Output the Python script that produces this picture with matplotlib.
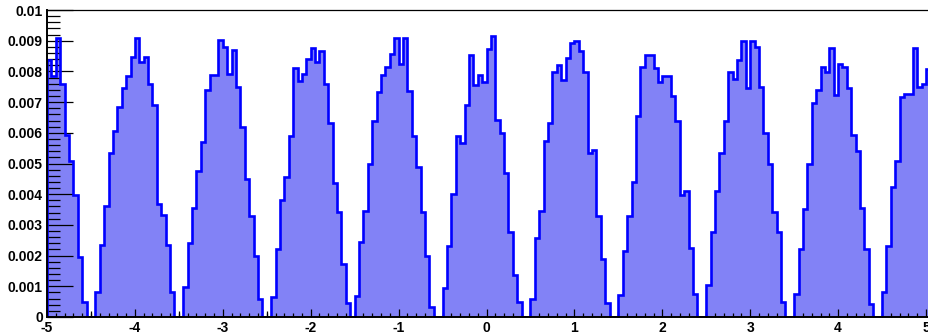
import numpy as np
import matplotlib
matplotlib.use("Agg")
import matplotlib.pyplot as plt
from matplotlib.ticker import MultipleLocator, FuncFormatter

plt.rcParams["font.family"] = ["Liberation Sans", "DejaVu Sans"]
plt.rcParams["font.weight"] = "bold"

# histogram binning
X_MIN = -5.0
BIN_W = 0.05

# bin contents, in units of 1e-3
peak_m5 = [8.37, 7.86, 9.10, 7.58, 5.93, 5.08, 3.96, 1.96, 0.49]
peak_m4 = [0.80, 2.36, 3.60, 5.33, 6.07, 6.84, 7.47, 7.86, 8.48, 9.10, 8.30, 8.48, 7.58, 6.90, 3.68, 3.32, 2.36, 0.80]
peak_m3 = [0.99, 2.42, 3.55, 4.76, 5.69, 7.38, 7.89, 7.89, 9.03, 8.80, 7.90, 8.70, 7.50, 6.18, 4.50, 3.28, 1.98, 0.60]
peak_m2 = [0.66, 2.22, 3.80, 4.57, 5.90, 8.10, 7.69, 7.91, 8.40, 8.77, 8.30, 8.68, 7.58, 6.33, 4.37, 3.43, 1.74, 0.44]
peak_m1 = [0.69, 2.44, 3.46, 4.98, 6.37, 7.33, 7.89, 8.13, 8.57, 9.10, 8.24, 9.10, 7.36, 5.91, 4.89, 3.41, 1.98, 0.33]
peak_0 = [0.93, 2.31, 4.02, 5.88, 5.66, 6.92, 8.55, 7.56, 7.89, 7.67, 8.74, 9.14, 6.43, 5.99, 4.70, 2.77, 1.37, 0.49]
peak_1 = [0.58, 2.58, 3.46, 5.73, 6.32, 7.97, 8.22, 7.71, 8.44, 8.92, 9.00, 8.66, 7.97, 5.35, 5.44, 3.28, 1.89, 0.46]
peak_2 = [0.71, 2.14, 3.29, 4.41, 6.54, 8.13, 8.55, 8.55, 8.10, 7.64, 7.86, 7.86, 7.20, 6.40, 3.96, 4.09, 2.25, 0.75]
peak_3 = [1.04, 2.76, 4.10, 5.34, 6.38, 7.97, 7.75, 8.38, 9.00, 7.47, 9.00, 8.80, 7.50, 6.00, 5.00, 3.43, 2.76, 0.49]
peak_4 = [0.75, 2.22, 3.52, 5.00, 6.98, 7.38, 8.13, 7.97, 8.77, 7.24, 8.24, 8.13, 7.47, 5.93, 5.40, 3.55, 2.20, 0.42]
peak_5 = [0.83, 2.31, 4.23, 5.08, 7.17, 7.26, 7.26, 8.77, 7.50, 7.60, 8.08]
gap = [0, 0]

counts = np.concatenate([peak_m5, gap, peak_m4, gap, peak_m3, gap, peak_m2, [0],
                         peak_m1, gap, peak_0, gap, peak_1, gap, peak_2, gap,
                         peak_3, gap, peak_4, gap, peak_5]) * 1e-3
edges = X_MIN + BIN_W * np.arange(len(counts) + 1)

fig = plt.figure(figsize=(9.29, 3.35), dpi=100)
ax = fig.add_axes([47 / 929, 18 / 335, 882 / 929, 307 / 335])

# fill + outline, like a ROOT TH1 with fill style
ax.stairs(counts, edges, fill=True, facecolor="#8282f6", edgecolor="none", zorder=1)
ax.stairs(counts, edges, color="#0000ff", linewidth=1.9, zorder=2)

ax.set_xlim(-5, -5 + 882 / 87.9)
ax.set_ylim(0, 0.01)

ax.xaxis.set_major_locator(MultipleLocator(1))
ax.xaxis.set_minor_locator(MultipleLocator(0.1))
ax.set_xticks(np.arange(-5, 6, 1))
ax.yaxis.set_major_locator(MultipleLocator(0.001))
ax.yaxis.set_minor_locator(MultipleLocator(0.0002))
ax.yaxis.set_major_formatter(FuncFormatter(lambda v, p: "%g" % round(v, 4)))
ax.xaxis.set_major_formatter(FuncFormatter(lambda v, p: "%g" % round(v, 3)))

ax.tick_params(axis="y", which="major", direction="in", length=19, width=0.9, pad=3, labelsize=10)
ax.tick_params(axis="y", which="minor", direction="in", length=9.5, width=0.9)
ax.tick_params(axis="x", which="major", direction="in", length=6, width=0.9, pad=3, labelsize=10)
ax.tick_params(axis="x", which="minor", direction="in", length=3, width=0.9)

# half-unit ticks on x
sec = ax.secondary_xaxis("bottom")
sec.set_xticks(np.arange(-4.5, 5, 1))
sec.tick_params(direction="in", length=4.5, width=0.9, labelbottom=False)
for s in sec.spines.values():
    s.set_visible(False)

ax.spines["right"].set_visible(False)
ax.spines["top"].set_linewidth(0.9)
ax.spines["left"].set_linewidth(1.4)
ax.spines["bottom"].set_linewidth(1.4)

fig.savefig("out.png", dpi=100)
